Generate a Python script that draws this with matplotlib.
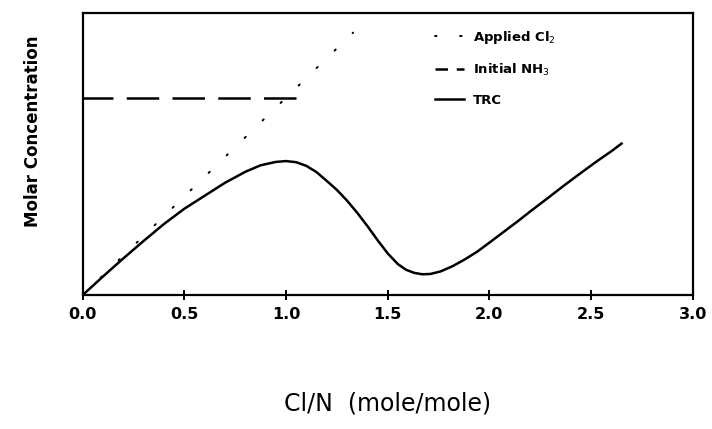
import matplotlib
matplotlib.use("Agg")
import matplotlib.pyplot as plt
from matplotlib.lines import Line2D

# breakpoint chlorination curve
trc_x = [0.0, 0.1, 0.2, 0.3, 0.4, 0.5, 0.6, 0.7, 0.8, 0.875, 0.95, 1.0,
         1.05, 1.1, 1.15, 1.2, 1.25, 1.3, 1.35, 1.4, 1.45, 1.5, 1.55, 1.59,
         1.63, 1.67, 1.71, 1.76, 1.82, 1.88, 1.94, 2.0, 2.07, 2.14, 2.2,
         2.28, 2.37, 2.45, 2.53, 2.6, 2.65]
trc_y = [0.0, 0.066, 0.13, 0.192, 0.252, 0.306, 0.352, 0.398, 0.437, 0.460, 0.472, 0.475,
         0.471, 0.458, 0.436, 0.405, 0.373, 0.335, 0.292, 0.245, 0.195, 0.148, 0.110, 0.090,
         0.079, 0.074, 0.075, 0.084, 0.103, 0.127, 0.154, 0.186, 0.224, 0.262, 0.296,
         0.34, 0.39, 0.433, 0.475, 0.51, 0.537]

cl2_x = [0.0, 1.33]
cl2_y = [0.0, 0.93]

nh3_x = [0.0, 1.05]
nh3_y = [0.70, 0.70]

xticks = [0.0, 0.5, 1.0, 1.5, 2.0, 2.5, 3.0]
labels = ["Applied Cl$_2$", "Initial NH$_3$", "TRC"]

fig = plt.figure(figsize=(7.12, 4.29), dpi=100)
ax = fig.add_axes([0.116, 0.312, 0.857, 0.658])

ax.plot(cl2_x, cl2_y, color="black", lw=1.4, linestyle=(0, (0.8, 12.1)),
        dash_capstyle="round")
ax.plot(nh3_x, nh3_y, color="black", lw=1.8, linestyle=(1, (13, 5.3)))
ax.plot(trc_x, trc_y, color="black", lw=1.8)

ax.set_xlim(0, 3.0)
ax.set_ylim(0, 1.0)
ax.set_xticks(xticks)
ax.set_xticklabels([f"{t:.1f}" for t in xticks], fontsize=11.5, fontweight="bold")
ax.set_yticks([])
ax.tick_params(axis="x", direction="inout", length=7, width=1.4, pad=5)
for s in ax.spines.values():
    s.set_linewidth(1.6)

ax.set_xlabel("Cl/N  (mole/mole)", fontsize=17, labelpad=50)
ax.set_ylabel("Molar Concentration", fontsize=12, fontweight="bold")
ax.yaxis.set_label_coords(-0.067, 0.58)

# legend handles use shorter patterns so they read like the original key
handles = [
    Line2D([], [], color="black", lw=1.4, linestyle=(0, (0.8, 12.1)), dash_capstyle="round"),
    Line2D([], [], color="black", lw=1.8, linestyle=(0, (5, 3.5))),
    Line2D([], [], color="black", lw=1.8),
]
ax.legend(handles, labels, loc="upper right", bbox_to_anchor=(0.795, 0.985), frameon=False,
          handlelength=2.2, handletextpad=0.7, labelspacing=1.2,
          prop={"weight": "bold", "size": 9.5})

fig.savefig("out.png", dpi=100)
